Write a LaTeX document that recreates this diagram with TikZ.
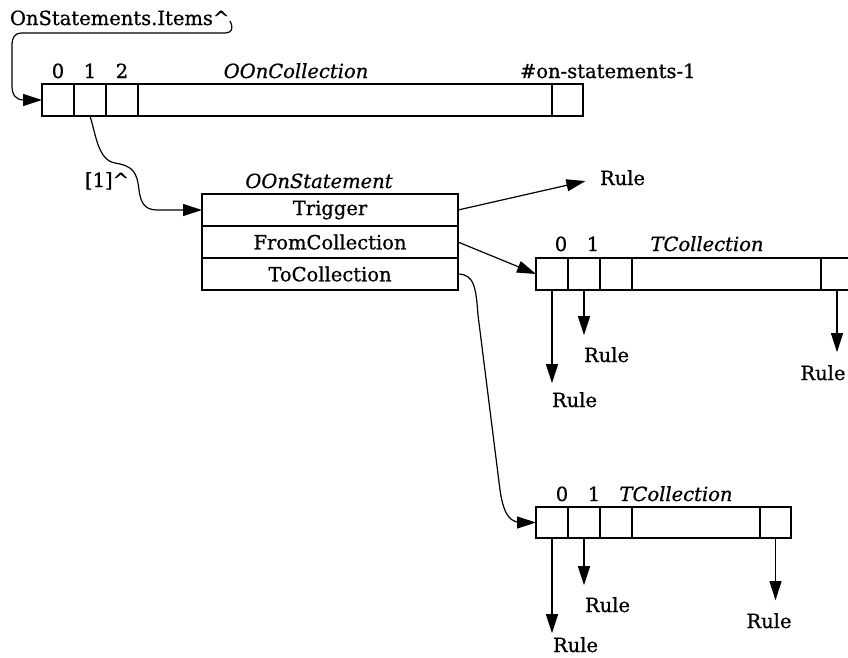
\documentclass[tikz,border=0pt]{standalone}
\usepackage{fontspec}
\setmainfont{DejaVu Serif}[FakeBold=0.8]
\usetikzlibrary{arrows.meta,calc}

\tikzset{
  txt/.style={inner sep=0pt, outer sep=0pt, font=\fontsize{19.5}{23}\selectfont},
  itxt/.style={txt, font=\fontsize{19.5}{23}\selectfont\itshape},
  cellbox/.style={draw, line width=1.2pt, inner sep=0pt, outer sep=0pt,
    minimum width=32pt, minimum height=32pt},
  rowbox/.style={cellbox, minimum width=256pt, font=\fontsize{19.5}{23}\selectfont},
  ptr/.style={line width=1.2pt, -{Triangle[length=19pt,width=12pt]}},
}

\begin{document}
\begin{tikzpicture}[x=1pt,y=-1pt]
\useasboundingbox (0,0) rectangle (848,657);

% ---- OOnCollection (the items array) ----
\node[txt, anchor=base west] (items) at (10,25) {OnStatements.Items\textasciicircum};
\coordinate (itemsend) at (230,21);

\node[cellbox] (a0) at (58,100) {};
\node[cellbox] (a1) at (90,100) {};
\node[cellbox] (a2) at (122,100) {};
\node[cellbox, minimum width=414pt] (am) at (345,100) {};
\node[cellbox, minimum width=31pt] (al) at (567.5,100) {};

\node[txt, anchor=base] at ([yshift=6pt]a0.north) {0};
\node[txt, anchor=base] at ([yshift=6pt]a1.north) {1};
\node[txt, anchor=base] at ([yshift=6pt]a2.north) {2};
\node[itxt, anchor=base] (ooncoll) at (296,78) {OOnCollection};
\node[txt, anchor=base west] (count) at (520,78) {\#on-statements-1};

\draw[ptr] (itemsend) .. controls (234,29) and (232,33) .. (224,33)
  -- (22,33) .. controls (14,33) and (12,38) .. (12,46)
  -- (12,86) .. controls (12,95) and (16,100) .. (24,100) -- (a0.west);

% ---- OOnStatement record ----
\node[itxt, anchor=base] (oonstmt) at (319,188) {OOnStatement};
\node[rowbox] (trig) at (330,210) {Trigger};
\node[rowbox] (from) at (330,242) {FromCollection};
\node[rowbox] (to)   at (330,274) {ToCollection};

\node[txt, anchor=base] (idx) at (107,187) {[1]\textasciicircum};
\draw[ptr] (a1.south) .. controls (96,135) and (98,160) .. (115,163)
  .. controls (133,166) and (137,172) .. (139,190)
  .. controls (141,205) and (146,210) .. (158,210) -- (trig.west);

\node[txt, anchor=base west] (rtrig) at (600,185) {Rule};
\draw[ptr, shorten >=15pt] (trig.east) -- (rtrig.west);

% ---- first TCollection ----
\node[cellbox] (b0) at (552,274) {};
\node[cellbox] (b1) at (584,274) {};
\node[cellbox] (b2) at (616,274) {};
\node[cellbox, minimum width=189pt] (bm) at (726.5,274) {};
\node[cellbox] (bl) at (837,274) {};

\node[txt, anchor=base] at ([xshift=9pt,yshift=7pt]b0.north) {0};
\node[txt, anchor=base] at ([xshift=9pt,yshift=7pt]b1.north) {1};
\node[itxt, anchor=base] (tcoll1) at (707,251) {TCollection};

\draw[ptr] (from.east) -- (b0.west);

\node[txt, anchor=base west] (rb0) at (552,407) {Rule};
\node[txt, anchor=base west] (rb1) at (584,362) {Rule};
\node[txt, anchor=base] (rbl) at (823,380) {Rule};
\draw[ptr, shorten >=9pt]  (b0.south) -- (b0.south |- rb0.north);
\draw[ptr, shorten >=12pt] (b1.south) -- (b1.south |- rb1.north);
\draw[ptr, shorten >=13pt] (bl.south) -- (bl.south |- rbl.north);

% ---- second TCollection ----
\node[cellbox, minimum height=31pt] (c0) at (552,522.5) {};
\node[cellbox, minimum height=31pt] (c1) at (584,522.5) {};
\node[cellbox, minimum height=31pt] (c2) at (616,522.5) {};
\node[cellbox, minimum height=31pt, minimum width=128pt] (cm) at (696,522.5) {};
\node[cellbox, minimum height=31pt, minimum width=31pt] (cl) at (775.5,522.5) {};

\node[txt, anchor=base] at ([xshift=10pt,yshift=6pt]c0.north) {0};
\node[txt, anchor=base] at ([xshift=10pt,yshift=6pt]c1.north) {1};
\node[itxt, anchor=base] (tcoll2) at (676,501) {TCollection};

\draw[ptr] (to.east) .. controls (475,274) and (476,290) .. (478,315)
  -- (500,490) .. controls (504,518) and (512,522.5) .. (522,522.5) -- (c0.west);

\node[txt, anchor=base west] (rc0) at (553,652) {Rule};
\node[txt, anchor=base west] (rc1) at (585,612) {Rule};
\node[txt, anchor=base] (rcl) at (769,628) {Rule};
\draw[ptr, shorten >=4pt]  (c0.south) -- (c0.south |- rc0.north);
\draw[ptr, shorten >=12pt] (c1.south) -- (c1.south |- rc1.north);
\draw[ptr, shorten >=13pt] (cl.south) -- (cl.south |- rcl.north);
\end{tikzpicture}
\end{document}
